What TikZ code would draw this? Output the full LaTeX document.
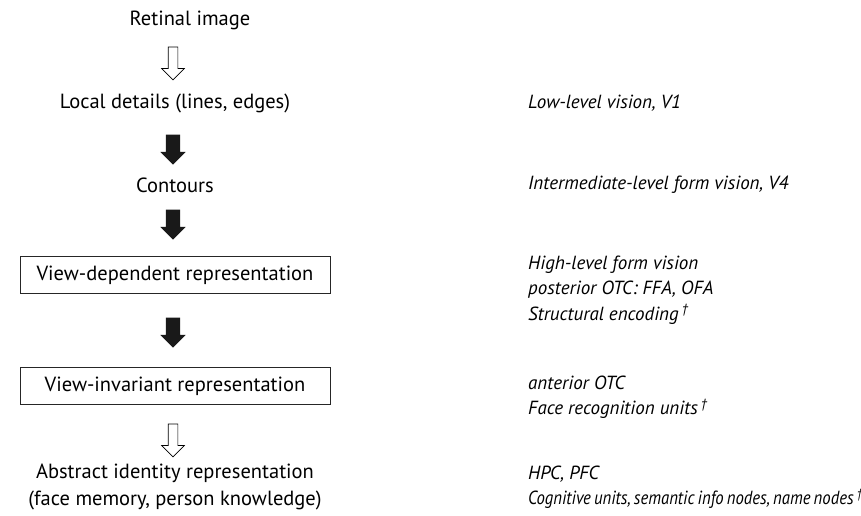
\documentclass[tikz,border=0pt]{standalone}
\usepackage{fontspec}
\setmainfont{PT Sans}
\newfontfamily\narrowfont[FakeStretch=0.88,WordSpace=0.7]{PT Sans}
\usetikzlibrary{shapes.arrows}

\tikzset{
	stage/.style={font=\fontsize{20.5}{27}\selectfont, inner sep=0pt, align=center},
	area/.style={font=\fontsize{19}{25.5}\selectfont\itshape, inner sep=0pt, anchor=west, align=left},
	stagebox/.style={draw=black!85, line width=0.9pt, minimum width=310pt, minimum height=37pt},
	solidarr/.style={single arrow, rotate=-90, fill=black!90, draw=none, minimum height=30pt,
		minimum width=25pt, inner xsep=0pt, inner ysep=7pt, single arrow head extend=5.5pt},
	hollowarr/.style={single arrow, rotate=-90, draw=black, line width=0.7pt, fill=white, minimum height=33pt,
		minimum width=22pt, inner xsep=0pt, inner ysep=4.5pt, single arrow head extend=6.5pt}
}

\begin{document}
\begin{tikzpicture}[x=1pt,y=-1pt]
	\useasboundingbox (0,0) rectangle (861,515);
	
	%left column - stages
	\node[stage] (retina)   at (190,20)  {Retinal image};
	\node[stage] (local)    at (175,103) {Local details (lines, edges)};
	\node[stage] (contour)  at (175,185) {Contours};
	\node[stage,stagebox] (viewdep) at (175,275) {View-dependent representation};
	\node[stage,stagebox] (viewinv) at (175,386) {View-invariant representation};
	\node[stage] (identity) at (175,487) {Abstract identity representation\\(face memory, person knowledge)};
	
	%left column - arrows
	\node[hollowarr] (a1) at (173,61)  {};		%retina--local
	\node[solidarr]  (a2) at (173,146) {};		%local--contour
	\node[solidarr]  (a3) at (173,221) {};		%contour--viewdep
	\node[solidarr]  (a4) at (173,329) {};		%viewdep--viewinv
	\node[hollowarr] (a5) at (173,438) {};		%viewinv--identity
	
	%right column - brain areas
	\node[area] (v1)    at (528,103) {Low-level vision, V1};
	\node[area] (v4)    at (528,185) {Intermediate-level form vision, V4};
	\node[area] (potc)  at (528,290) {High-level form vision\\posterior OTC: FFA, OFA\\Structural encoding\,\textsuperscript{\textdagger}};
	\node[area] (aotc)  at (528,397) {anterior OTC\\Face recognition units\,\textsuperscript{\textdagger}};
	\node[area] (hpc)   at (528,487) {HPC, PFC\\{\narrowfont\itshape Cognitive units, semantic info nodes, name nodes\,\textsuperscript{\textdagger}}};
\end{tikzpicture}
\end{document}
